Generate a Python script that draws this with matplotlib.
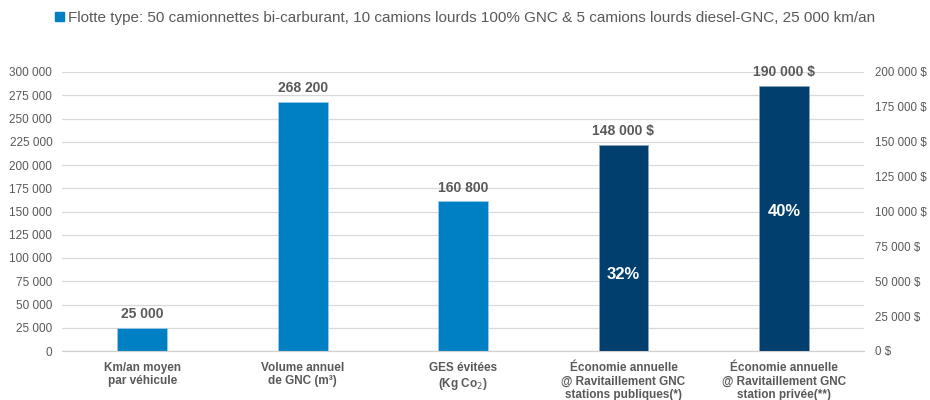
import matplotlib
matplotlib.use("Agg")
import matplotlib.pyplot as plt
from matplotlib.patches import Patch
from matplotlib.ticker import FuncFormatter, MultipleLocator

plt.rcParams["font.family"] = ["Liberation Sans", "DejaVu Sans"]

categories = [
    "Km/an moyen\npar véhicule",
    "Volume annuel\nde GNC (m³)",
    "GES évitées\n(Kg Co$_2$)",
    "Économie annuelle\n@ Ravitaillement GNC\nstations publiques(*)",
    "Économie annuelle\n@ Ravitaillement GNC\nstation privée(**)",
]
left_values = [25000, 268200, 160800]          # left axis
right_values = [148000, 190000]                # right axis ($)
left_labels = ["25 000", "268 200", "160 800"]
right_labels = ["148 000 $", "190 000 $"]
pct_labels = ["32%", "40%"]
pct_y = [55000, 100000]                        # where the % text sits (right axis)
legend_text = ("Flotte type: 50 camionnettes bi-carburant, 10 camions lourds 100% GNC "
               "& 5 camions lourds diesel-GNC, 25 000 km/an")

LIGHT = "#0080C4"
DARK = "#003F6E"
GREY = "#595959"

fig = plt.figure(figsize=(9.3, 4.0), dpi=100)
ax = fig.add_axes([0.0667, 0.1225, 0.8624, 0.6975])
ax2 = ax.twinx()

x_left = list(range(len(left_values)))
x_right = list(range(len(left_values), len(categories)))
w = 0.31

bars1 = ax.bar(x_left, left_values, width=w, color=LIGHT, edgecolor="#9cc9e6",
               linewidth=0.6, zorder=3)
bars2 = ax2.bar(x_right, right_values, width=w, color=DARK, edgecolor="#8aa4bd",
                linewidth=0.6, zorder=3)

for b, lab in zip(bars1, left_labels):
    ax.annotate(lab, (b.get_x() + b.get_width() / 2, b.get_height()),
                xytext=(0, 5), textcoords="offset points", ha="center", va="bottom",
                fontsize=10, fontweight="bold", color=GREY)
for b, lab in zip(bars2, right_labels):
    ax2.annotate(lab, (b.get_x() + b.get_width() / 2, b.get_height()),
                 xytext=(0, 5), textcoords="offset points", ha="center", va="bottom",
                 fontsize=10, fontweight="bold", color=GREY)
for xi, lab, yv in zip(x_right, pct_labels, pct_y):
    ax2.text(xi, yv, lab, ha="center", va="center", fontsize=12,
             fontweight="bold", color="white", zorder=4)

ax.set_xlim(-0.5, len(categories) - 0.5)
ax.set_ylim(0, 300000)
ax2.set_ylim(0, 200000)
ax.yaxis.set_major_locator(MultipleLocator(25000))
ax2.yaxis.set_major_locator(MultipleLocator(25000))
ax.yaxis.set_major_formatter(FuncFormatter(lambda v, p: f"{v:,.0f}".replace(",", " ")))
ax2.yaxis.set_major_formatter(FuncFormatter(lambda v, p: f"{v:,.0f} $".replace(",", " ")))

ax.set_xticks(range(len(categories)))
ax.set_xticklabels(categories, fontsize=8.5, fontweight="bold", color=GREY,
                   linespacing=1.15)
ax.tick_params(axis="x", length=0, pad=8)
ax.tick_params(axis="y", length=0, pad=7, labelsize=8.5, labelcolor=GREY)
ax2.tick_params(axis="y", length=0, pad=8, labelsize=8.3, labelcolor=GREY)

ax.grid(axis="y", color="#D9D9D9", linewidth=0.9, zorder=0)
ax.set_axisbelow(True)
for a in (ax, ax2):
    for s in ("top", "left", "right"):
        a.spines[s].set_visible(False)
    a.spines["bottom"].set_color("#D0D0D0")

fig.legend(handles=[Patch(color=LIGHT)], labels=[legend_text],
           loc="center", bbox_to_anchor=(0.5, 0.955), frameon=False,
           fontsize=11, labelcolor=GREY, handlelength=0.6, handleheight=0.6,
           handletextpad=0.3)

fig.savefig("out.png", dpi=100)
